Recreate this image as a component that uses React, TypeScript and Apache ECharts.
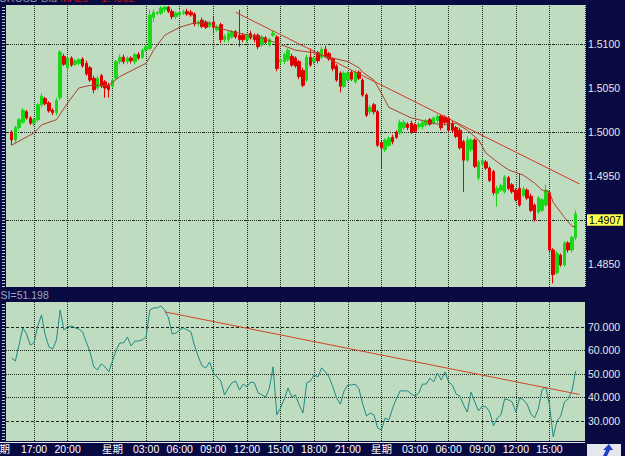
import React, { useEffect, useRef } from 'react';
import * as echarts from 'echarts';

// ---- data ----
const N = 155; // time slots (20-minute bars)
const OPEN = [null,
1.5000,1.4991,1.5005,1.5011,1.5023,1.5016,1.5010,1.5014,1.5031,1.5038,
1.5033,1.5025,1.5022,1.5039,1.5086,1.5073,1.5084,1.5077,1.5078,1.5083,
1.5078,1.5073,1.5061,1.5050,1.5064,1.5057,1.5053,1.5052,1.5061,1.5080,
1.5085,1.5080,1.5084,1.5080,1.5088,1.5085,1.5093,1.5095,1.5130,1.5135,
1.5135,1.5139,1.5142,1.5137,1.5131,1.5133,1.5135,1.5137,1.5136,1.5134,
1.5123,1.5127,1.5125,1.5120,1.5125,1.5116,1.5122,1.5105,1.5105,1.5108,
1.5114,1.5110,1.5110,1.5105,1.5112,1.5110,1.5110,1.5099,1.5107,1.5099,
1.5110,1.5108,1.5080,1.5080,1.5082,1.5086,1.5084,1.5080,1.5070,1.5059,
1.5085,1.5080,1.5090,1.5085,1.5094,1.5089,1.5083,1.5075,1.5067,1.5052,
1.5059,1.5068,1.5057,1.5068,1.5059,1.5042,1.5023,1.5031,1.5023,1.4988,
1.4980,1.4985,1.4994,1.5000,1.4999,1.5005,1.5009,1.5010,1.5008,1.5006,
1.5006,1.5008,1.5014,1.5010,1.5013,1.5018,1.5017,1.5016,1.5010,1.5005,
1.5002,1.4989,1.4968,1.4980,1.4991,1.4948,1.4963,1.4966,1.4959,1.4955,
1.4930,1.4934,1.4932,1.4948,1.4940,1.4934,1.4936,1.4928,1.4934,1.4927,
1.4917,1.4909,1.4911,1.4917,1.4931,1.4866,1.4840,1.4860,1.4849,1.4874,
1.4866,1.4880];
const CLOSE = [null,
1.4991,1.5005,1.5014,1.5025,1.5016,1.5010,1.5014,1.5031,1.5041,1.5032,
1.5024,1.5022,1.5036,1.5091,1.5077,1.5084,1.5076,1.5081,1.5082,1.5075,
1.5066,1.5059,1.5048,1.5061,1.5052,1.5050,1.5048,1.5059,1.5080,1.5085,
1.5080,1.5084,1.5081,1.5088,1.5084,1.5093,1.5097,1.5133,1.5136,1.5136,
1.5141,1.5142,1.5137,1.5131,1.5135,1.5136,1.5136,1.5134,1.5133,1.5123,
1.5125,1.5120,1.5119,1.5124,1.5119,1.5119,1.5105,1.5109,1.5112,1.5114,
1.5108,1.5105,1.5105,1.5110,1.5107,1.5105,1.5097,1.5108,1.5102,1.5105,
1.5112,1.5072,1.5082,1.5088,1.5093,1.5076,1.5075,1.5063,1.5053,1.5085,
1.5076,1.5084,1.5081,1.5094,1.5086,1.5083,1.5072,1.5059,1.5052,1.5067,
1.5067,1.5060,1.5068,1.5061,1.5042,1.5019,1.5028,1.5023,1.4985,1.4982,
1.4991,1.4993,1.4989,1.4994,1.5011,1.5011,1.5005,1.5000,1.5001,1.5009,
1.5011,1.5013,1.5009,1.5016,1.5018,1.5005,1.5011,1.5002,1.5002,1.4995,
1.4982,1.4968,1.4991,1.4991,1.4961,1.4966,1.4968,1.4959,1.4945,1.4931,
1.4936,1.4939,1.4949,1.4936,1.4932,1.4923,1.4917,1.4935,1.4925,1.4911,
1.4900,1.4925,1.4923,1.4934,1.4866,1.4838,1.4862,1.4849,1.4874,1.4866,
1.4880,1.4907];
const LOW = [null,
1.4985,1.4988,1.5002,1.5009,1.5014,1.5008,1.5007,1.5011,1.5028,1.5030,
1.5022,1.5019,1.5019,1.5036,1.5075,1.5063,1.5074,1.5075,1.5076,1.5073,
1.5064,1.5057,1.5044,1.5048,1.5050,1.5039,1.5039,1.5050,1.5059,1.5077,
1.5077,1.5077,1.5078,1.5077,1.5082,1.5083,1.5091,1.5093,1.5125,1.5133,
1.5133,1.5136,1.5135,1.5128,1.5128,1.5131,1.5133,1.5132,1.5131,1.5120,
1.5120,1.5118,1.5117,1.5118,1.5112,1.5114,1.5101,1.5102,1.5102,1.5106,
1.5106,1.5097,1.5102,1.5102,1.5105,1.5102,1.5094,1.5097,1.5100,1.5097,
1.5108,1.5069,1.5077,1.5077,1.5080,1.5074,1.5073,1.5060,1.5051,1.5057,
1.5074,1.5077,1.5078,1.5083,1.5084,1.5081,1.5069,1.5057,1.5045,1.5050,
1.5057,1.5058,1.5055,1.5059,1.5040,1.5017,1.5020,1.5020,1.4983,1.4959,
1.4977,1.4983,1.4986,1.4992,1.4997,1.5002,1.5002,1.4998,1.4999,1.5003,
1.5003,1.5006,1.5007,1.5008,1.5010,1.5002,1.5009,1.5000,1.5000,1.4993,
1.4980,1.4932,1.4966,1.4977,1.4959,1.4945,1.4960,1.4957,1.4943,1.4928,
1.4915,1.4932,1.4930,1.4934,1.4930,1.4921,1.4915,1.4926,1.4923,1.4909,
1.4898,1.4907,1.4909,1.4915,1.4863,1.4828,1.4838,1.4847,1.4847,1.4863,
1.4863,1.4877];
const HIGH = [null,
1.5002,1.5007,1.5016,1.5027,1.5025,1.5018,1.5016,1.5033,1.5044,1.5040,
1.5035,1.5027,1.5039,1.5093,1.5089,1.5086,1.5086,1.5083,1.5084,1.5085,
1.5081,1.5075,1.5064,1.5064,1.5066,1.5059,1.5056,1.5061,1.5082,1.5088,
1.5088,1.5086,1.5086,1.5090,1.5091,1.5095,1.5099,1.5139,1.5139,1.5137,
1.5143,1.5143,1.5143,1.5140,1.5137,1.5139,1.5139,1.5140,1.5139,1.5136,
1.5127,1.5130,1.5127,1.5126,1.5131,1.5122,1.5124,1.5111,1.5115,1.5116,
1.5116,1.5139,1.5112,1.5112,1.5115,1.5112,1.5112,1.5110,1.5109,1.5107,
1.5115,1.5110,1.5084,1.5090,1.5095,1.5089,1.5086,1.5082,1.5073,1.5088,
1.5095,1.5086,1.5092,1.5097,1.5098,1.5091,1.5085,1.5077,1.5069,1.5069,
1.5069,1.5070,1.5070,1.5070,1.5061,1.5044,1.5031,1.5033,1.5025,1.4990,
1.4993,1.4995,1.4997,1.5002,1.5014,1.5014,1.5011,1.5013,1.5010,1.5011,
1.5014,1.5015,1.5016,1.5018,1.5020,1.5020,1.5019,1.5018,1.5013,1.5007,
1.5005,1.4991,1.4995,1.4993,1.4993,1.4968,1.4970,1.4968,1.4961,1.4957,
1.4939,1.4941,1.4951,1.4950,1.4942,1.4936,1.4953,1.4938,1.4936,1.4930,
1.4919,1.4927,1.4925,1.4940,1.4933,1.4868,1.4865,1.4862,1.4876,1.4876,
1.4882,1.4911];
const RSI = [null,
56.8,55.5,62.3,69.6,67.0,62.3,63.2,70.4,75.1,66.6,
61.5,60.6,64.5,77.2,68.7,70.0,70.4,69.6,69.1,67.9,
63.6,59.4,53.0,51.7,54.3,53.0,50.9,55.5,60.2,63.2,
63.2,65.7,61.9,64.0,64.0,64.5,65.7,77.2,78.1,78.1,
78.9,77.2,73.8,67.0,67.4,68.7,69.6,68.7,67.9,61.9,
57.2,53.4,52.6,55.1,50.4,48.7,47.0,41.1,44.0,46.2,
47.0,43.2,45.7,44.5,46.6,46.2,41.9,41.1,40.2,44.0,
53.0,32.6,35.5,39.4,44.0,40.2,41.1,36.8,33.4,46.2,
47.0,49.6,48.7,52.6,50.9,48.7,44.5,39.8,37.2,42.8,
45.3,45.3,45.7,43.6,37.2,32.1,33.4,32.6,27.0,26.2,
31.3,30.4,35.5,39.4,42.8,42.8,42.8,41.5,40.6,41.9,
45.7,45.7,48.3,46.6,50.4,47.4,50.9,46.6,45.3,41.5,
40.6,36.8,33.8,42.3,38.1,34.3,36.4,36.0,33.8,27.9,
31.3,32.6,39.4,39.0,38.1,33.8,39.8,39.0,37.2,33.0,
31.3,35.1,43.2,44.5,36.8,23.2,30.0,32.1,38.1,39.4,
42.8,51.2];
// moving average, read at sample bars: [bar index, value]
const MA = [[1,1.4985],[7,1.4999],[9,1.5008],[13,1.5014],[16,1.5033],[19,1.5050],[22,1.5053],[27,1.5053],
[30,1.5063],[36,1.5076],[37,1.5078],[39,1.5093],[42,1.5110],[46,1.5119],[50,1.5124],[54,1.5124],[56,1.5119],
[60,1.5114],[67,1.5108],[72,1.5101],[77,1.5093],[82,1.5090],[86,1.5085],[91,1.5080],[94,1.5073],[95,1.5068],
[98,1.5059],[100,1.5044],[102,1.5028],[108,1.5016],[116,1.5008],[120,1.5010],[123,1.5002],[126,1.4991],
[128,1.4976],[131,1.4966],[134,1.4957],[138,1.4951],[141,1.4942],[143,1.4934],[145,1.4932],[146,1.4920],
[149,1.4903],[151,1.4893],[152,1.4892]];
const PRICE_TREND = [[61, 1.5136], [153, 1.4941]];
const RSI_TREND = [[42, 76.4], [153, 41.3]];
const LABEL_INDEX = [7, 16, 28, 37, 46, 55, 64, 73, 82, 91, 100, 109, 118, 127, 136, 145];
const LABEL_TEXT = ['17:00', '20:00', '星期', '03:00', '06:00', '09:00', '12:00', '15:00', '18:00', '21:00', '星期', '03:00', '06:00', '09:00', '12:00', '15:00'];
const PRICE_TICKS = [1.485, 1.49, 1.495, 1.5, 1.505, 1.51];
const PRICE_MID = [1.4825, 1.4875, 1.4925, 1.4975, 1.5025, 1.5075, 1.5125];
const RSI_TICKS = [30, 40, 50, 60, 70];
const RSI_DASHED = [30, 70];
const RSI_DOTTED = [40, 50, 60];
const LAST_PRICE = 1.4907;
const LAST_RSI = 51.198;
const PRICE_MIN = 1.48239, PRICE_MAX = 1.51443;
const RSI_MIN = 21.5, RSI_MAX = 80.6;

const NAVY = '#0a0a42';
const GREEN_BG = '#c0dcc0';
const GRID_C = '#1c2a1c';
const FONT = '"Liberation Sans", "Noto Sans CJK SC", sans-serif';

function buildOption() {
  const cats = Array.from({ length: N }, (_, i) => String(i));
  const candles = OPEN.map((o, i) => (o == null ? ['-', '-', '-', '-'] : [o, CLOSE[i], LOW[i], HIGH[i]]));
  const dotted = { type: [1, 1] as any, color: GRID_C, width: 1 };
  const vLines = LABEL_INDEX.map((i) => ({ xAxis: String(i), lineStyle: dotted }));

  const g: any[] = [];
  for (let y = 7; y < 287; y += 3) g.push({ type: 'rect', silent: true, shape: { x: 2, y, width: 3, height: 1 }, style: { fill: '#b8c4e0' } });
  for (let y = 304; y < 441; y += 3) g.push({ type: 'rect', silent: true, shape: { x: 2, y, width: 3, height: 1 }, style: { fill: '#b8c4e0' } });
  g.push({ type: 'line', silent: true, z: 50, shape: { x1: 0, y1: 442.5, x2: 585, y2: 442.5 }, style: { stroke: '#e8e8e8', lineWidth: 1 } });
  g.push({ type: 'line', silent: true, z: 50, shape: { x1: 585.5, y1: 5, x2: 585.5, y2: 287 }, style: { stroke: '#d8e0d8', lineWidth: 1, lineDash: [1, 1] } });
  g.push({ type: 'text', silent: true, z: 50, x: 57, y: -8, style: { text: 'EURUSD Bid', fill: '#8a96a8', font: `11px ${FONT}`, align: 'right', textAlign: 'right', verticalAlign: 'top', textVerticalAlign: 'top' } });
  g.push({ type: 'text', silent: true, z: 50, x: 60, y: -8, style: { text: 'MA20 = ' + MA[MA.length - 1][1].toFixed(4), fill: '#c81010', font: `11px ${FONT}`, align: 'left', textAlign: 'left', verticalAlign: 'top', textVerticalAlign: 'top' } });
  g.push({ type: 'text', silent: true, z: 50, x: -7, y: 290, style: { text: 'RSI=' + LAST_RSI.toFixed(3), fill: '#9aa6c4', font: `10.5px ${FONT}`, verticalAlign: 'top', textVerticalAlign: 'top' } });
  g.push({ type: 'text', silent: true, z: 50, x: -11, y: 444, style: { text: '星期', fill: '#ffffff', font: `10.5px ${FONT}`, verticalAlign: 'top', textVerticalAlign: 'top' } });
  g.push({ type: 'rect', silent: true, z: 50, shape: { x: 587, y: 444, width: 34, height: 12 }, style: { fill: '#e6e6ee' } });
  g.push({ type: 'polygon', silent: true, z: 51, shape: { points: [[603, 456], [606, 450], [603, 450], [609, 444], [613, 450], [610, 450], [607, 456]] }, style: { fill: '#2040c8' } });

  return {
    animation: false,
    backgroundColor: NAVY,
    grid: [
      { left: 6, top: 5, width: 579, height: 282, show: true, backgroundColor: GREEN_BG, borderWidth: 0 },
      { left: 6, top: 302, width: 579, height: 139, show: true, backgroundColor: GREEN_BG, borderWidth: 0 },
    ],
    xAxis: [
      { type: 'category', gridIndex: 0, data: cats, boundaryGap: true, show: false },
      {
        type: 'category', gridIndex: 1, data: cats, boundaryGap: true,
        axisLine: { show: false }, axisTick: { show: false }, splitLine: { show: false },
        axisLabel: {
          show: true, color: '#ffffff', fontSize: 10.5, fontFamily: FONT, margin: 3, hideOverlap: false,
          interval: (i: number) => LABEL_INDEX.indexOf(i) >= 0,
          formatter: (_v: string, i: number) => { const k = LABEL_INDEX.indexOf(i); return k >= 0 ? LABEL_TEXT[k] : ''; },
        },
      },
    ],
    yAxis: [
      {
        type: 'value', gridIndex: 0, position: 'right', min: PRICE_MIN, max: PRICE_MAX,
        axisLine: { show: false }, axisTick: { show: false }, splitLine: { show: false },
        axisLabel: {
          color: '#e8e8e8', fontSize: 10.5, fontFamily: FONT, margin: 3, customValues: PRICE_TICKS,
          formatter: (v: number) => (PRICE_TICKS.some((t) => Math.abs(t - v) < 1e-7) ? v.toFixed(4) : ''),
        },
      },
      {
        type: 'value', gridIndex: 1, position: 'right', min: RSI_MIN, max: RSI_MAX,
        axisLine: { show: false }, axisTick: { show: false }, splitLine: { show: false },
        axisLabel: {
          color: '#e8e8e8', fontSize: 10.5, fontFamily: FONT, margin: 3, customValues: RSI_TICKS,
          formatter: (v: number) => (RSI_TICKS.some((t) => Math.abs(t - v) < 1e-7) ? v.toFixed(3) : ''),
        },
      },
    ],
    series: [
      {
        type: 'candlestick', xAxisIndex: 0, yAxisIndex: 0, data: candles, barWidth: 3, z: 2,
        itemStyle: { color: '#18d818', color0: '#e00000', borderColor: '#18d818', borderColor0: '#e00000', borderWidth: 1 },
        silent: true,
        markLine: {
          silent: true, symbol: ['none', 'none'], z: 1, animation: false, label: { show: false }, emphasis: { disabled: true },
          data: [
            ...vLines,
            ...PRICE_TICKS.map((v) => ({ yAxis: v, lineStyle: dotted })),
            ...PRICE_MID.map((v) => ({ yAxis: v, lineStyle: { type: [3, 11], color: GRID_C, width: 1 } })),
          ],
        },
      },
      {
        type: 'line', xAxisIndex: 0, yAxisIndex: 0, data: MA, showSymbol: false, symbol: 'none', silent: true, z: 3,
        lineStyle: { color: '#a84030', width: 1 },
        markLine: {
          silent: true, symbol: ['none', 'none'], z: 10, animation: false, emphasis: { disabled: true },
          lineStyle: { color: 'rgba(0,0,0,0)', width: 1, type: 'solid' },
          label: { show: true, position: 'end', distance: 2, formatter: LAST_PRICE.toFixed(4), color: '#000000', backgroundColor: '#ffff50', fontSize: 10.5, fontFamily: FONT, padding: [1, 2, 0, 2], opacity: 1 },
          data: [{ yAxis: LAST_PRICE }],
        },
      },
      {
        type: 'line', xAxisIndex: 0, yAxisIndex: 0, data: PRICE_TREND, showSymbol: false, symbol: 'none', silent: true, z: 4,
        lineStyle: { color: '#cc3a24', width: 1 },
      },
      {
        type: 'line', xAxisIndex: 1, yAxisIndex: 1, data: RSI, showSymbol: false, symbol: 'none', silent: true, z: 2,
        lineStyle: { color: '#1f8a82', width: 1 },
        markLine: {
          silent: true, symbol: ['none', 'none'], z: 1, animation: false, label: { show: false }, emphasis: { disabled: true },
          data: [
            ...vLines,
            ...RSI_DOTTED.map((v) => ({ yAxis: v, lineStyle: dotted })),
            ...RSI_DASHED.map((v) => ({ yAxis: v, lineStyle: { type: [3, 2], color: '#182018', width: 1 } })),
          ],
        },
      },
      {
        type: 'line', xAxisIndex: 1, yAxisIndex: 1, data: RSI_TREND, showSymbol: false, symbol: 'none', silent: true, z: 4,
        lineStyle: { color: '#d04428', width: 1 },
      },
    ],
    graphic: { elements: g },
  };
}

export default function App() {
  const ref = useRef<HTMLDivElement>(null);
  useEffect(() => {
    if (!ref.current) return;
    const chart = echarts.init(ref.current, null, { renderer: 'svg' });
    chart.setOption(buildOption() as any);
    return () => chart.dispose();
  }, []);
  return <div ref={ref} style={{ position: 'absolute', left: 0, top: 0, width: 625, height: 456 }} />;
}
